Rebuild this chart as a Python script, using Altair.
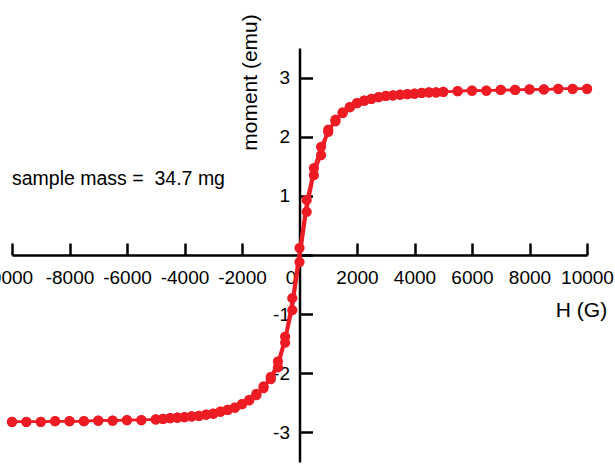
import altair as alt
import pandas as pd

FONT = "Liberation Sans"
RED = "#ED1C24"

# Applied field H (G)
H = [-10000, -9500, -9000, -8500, -8000, -7500, -7000, -6500, -6000, -5500,
     -5000, -4750, -4500, -4250, -4000, -3750, -3500, -3250, -3000, -2750,
     -2500, -2250, -2000, -1750, -1500, -1250, -1000, -750, -500, -250,
     0, 250, 500, 750, 1000, 1250, 1500, 1750, 2000, 2250,
     2500, 2750, 3000, 3250, 3500, 3750, 4000, 4250, 4500, 4750,
     5000, 5500, 6000, 6500, 7000, 7500, 8000, 8500, 9000, 9500, 10000]

# Ascending-field branch (emu)
M_up = [-2.82, -2.82, -2.82, -2.81, -2.81, -2.81, -2.80, -2.80, -2.79, -2.79,
        -2.78, -2.77, -2.76, -2.75, -2.74, -2.73, -2.72, -2.70, -2.68, -2.65,
        -2.62, -2.58, -2.52, -2.46, -2.37, -2.25, -2.10, -1.90, -1.48, -0.93,
        -0.12, 0.73, 1.35, 1.69, 2.08, 2.26, 2.40, 2.50, 2.57, 2.61,
        2.64, 2.67, 2.69, 2.70, 2.71, 2.72, 2.73, 2.74, 2.75, 2.75,
        2.76, 2.77, 2.78, 2.78, 2.79, 2.79, 2.80, 2.80, 2.81, 2.81, 2.81]

# Descending-field branch (emu)
M_down = [-2.82, -2.82, -2.82, -2.81, -2.81, -2.81, -2.80, -2.80, -2.79, -2.79,
          -2.78, -2.77, -2.76, -2.75, -2.74, -2.73, -2.72, -2.70, -2.68, -2.65,
          -2.62, -2.58, -2.52, -2.45, -2.35, -2.22, -2.06, -1.80, -1.38, -0.73,
          0.12, 0.93, 1.47, 1.83, 2.12, 2.29, 2.41, 2.50, 2.57, 2.61,
          2.64, 2.67, 2.69, 2.70, 2.71, 2.72, 2.73, 2.74, 2.75, 2.75,
          2.76, 2.77, 2.78, 2.78, 2.79, 2.79, 2.80, 2.80, 2.81, 2.81, 2.81]

x_ticks = [-10000, -8000, -6000, -4000, -2000, 0, 2000, 4000, 6000, 8000, 10000]
y_ticks = [-3, -2, -1, 0, 1, 2, 3]

note_text = ["sample mass =\u00a0 34.7 mg"]
note_H = [-10000]
note_M = [1.18]

df = pd.DataFrame({
    "H": H + H,
    "M": M_up + M_down,
    "branch": ["up"] * len(H) + ["down"] * len(H),
})
note_df = pd.DataFrame({"H": note_H, "M": note_M, "label": note_text})

xscale = alt.Scale(domain=[-10000, 10000], nice=False, zero=False)
yscale = alt.Scale(domain=[-3.5, 3.5], nice=False, zero=False)

xaxis = alt.Axis(
    orient="top", offset=-207, values=x_ticks, grid=False,
    domainColor="black", domainWidth=2.5,
    tickColor="black", tickWidth=2.5, tickSize=12,
    labelPadding=-25, labelBaseline="top", labelAlign="center",
    labelFont=FONT, labelFontSize=19, labelColor="black",
    labelFlush=False, labelOverlap=False, labelBound=False,
    labelExpr="toString(datum.value)",
    labelOffset={"condition": {"test": "datum.value == 0 || datum.value == -10000", "value": -9}, "value": 0},
    title="H (G)", titleX=569, titleY=55, titleAlign="center", titleBaseline="middle",
    titleAngle=0, titleFont=FONT, titleFontSize=21, titleFontWeight="normal", titleColor="black",
)

yaxis = alt.Axis(
    orient="right", offset=-287.5, values=y_ticks, grid=False,
    domainColor="black", domainWidth=2.5,
    tickColor="black", tickWidth=2.5, tickSize=13,
    labelPadding=-23, labelBaseline="middle", labelAlign="right",
    labelFont=FONT, labelFontSize=19, labelColor="black",
    labelFlush=False, labelOverlap=False, labelBound=False,
    labelExpr="datum.value == 0 ? '' : toString(datum.value)",
    title="moment (emu)", titleX=-49.5, titleY=34, titleAlign="center", titleBaseline="middle",
    titleAngle=270, titleFont=FONT, titleFontSize=21, titleFontWeight="normal", titleColor="black",
)

x_enc = alt.X("H:Q", scale=xscale, axis=xaxis)
y_enc = alt.Y("M:Q", scale=yscale, axis=yaxis)

line = alt.Chart(df).mark_line(color=RED, strokeWidth=2.5).encode(
    x=x_enc, y=y_enc, detail="branch:N"
)
points = alt.Chart(df).mark_circle(color=RED, size=105, opacity=1).encode(
    x=x_enc, y=y_enc
)
note = alt.Chart(note_df).mark_text(
    align="left", baseline="alphabetic", font=FONT, fontSize=19.5, color="black"
).encode(x=x_enc, y=y_enc, text="label:N")

chart = alt.layer(line, points, note).properties(
    width=575, height=414,
    autosize=alt.AutoSizeParams(type="none"),
    padding={"left": 12, "top": 48, "right": 28, "bottom": 2},
    background="white",
).configure_view(stroke=None)

chart.save("out.html", embed_options={"renderer": "svg", "actions": False})
